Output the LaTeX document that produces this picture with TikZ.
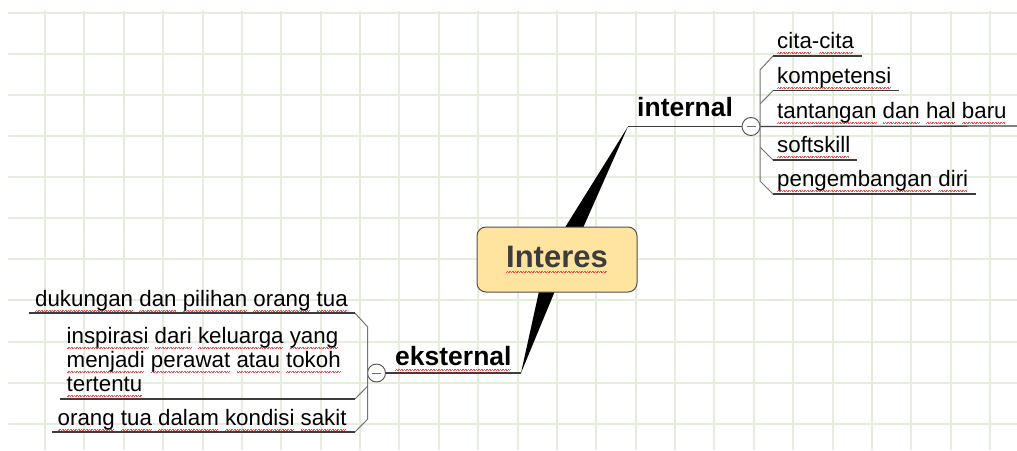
\documentclass[tikz,border=0pt]{standalone}
\usepackage{fontspec}
\setmainfont{Liberation Sans}
\usetikzlibrary{calc}
\definecolor{gridc}{RGB}{229,237,220}
\definecolor{boxfill}{RGB}{255,228,160}
\definecolor{boxline}{RGB}{80,80,80}
\definecolor{ulc}{RGB}{60,60,60}
\definecolor{conc}{RGB}{115,115,115}
\definecolor{rootc}{RGB}{60,60,60}
\definecolor{sqc}{RGB}{245,80,80}
\newsavebox\sqbox
\newcommand\sq[1]{\sbox\sqbox{#1}\rlap{\color{sqc}\leaders\hbox{\rule[-5.1pt]{0.8pt}{0.55pt}\rule[-4.4pt]{0.8pt}{0.55pt}}\hskip\wd\sqbox}\usebox\sqbox}
\tikzset{
  gridl/.style={draw=gridc, line width=2pt},
  rootbox/.style={draw=boxline, fill=boxfill, line width=1pt, rounded corners=9pt,
    minimum width=160pt, minimum height=65pt, inner sep=0pt,
    font=\fontsize{31}{31}\selectfont\bfseries, text=rootc},
  maint/.style={inner sep=0pt, anchor=base west, font=\fontsize{26.5}{28}\selectfont\bfseries},
  leaf/.style={inner sep=0pt, font=\fontsize{22.3}{24}\selectfont, text=black},
  ul/.style={draw=ulc, line width=1.3pt},
  conn/.style={draw=conc, line width=1pt},
  tog/.style={circle, draw=boxline, fill=white, line width=0.9pt, minimum size=18pt, inner sep=0pt,
    path picture={\draw[conc, line width=0.9pt] ([xshift=-4.5pt]path picture bounding box.center) -- ([xshift=4.5pt]path picture bounding box.center);}},
  wedge/.style={fill=black}
}
\begin{document}
\begin{tikzpicture}[x=1pt,y=-1pt]
\useasboundingbox (0,0) rectangle (1017,450);
\fill[white] (0,0) rectangle (1017,450);
% grid
\begin{scope}
\clip (8,11) rectangle (1017,450);
\foreach \k in {0,...,24} { \pgfmathsetmacro\gx{45+39.375*\k} \draw[gridl] (\gx,11) -- (\gx,450); }
\foreach \k in {0,...,10} { \pgfmathsetmacro\gy{13+41.07*\k} \draw[gridl] (8,\gy) -- (1017,\gy); }
\end{scope}

% key coordinates
\coordinate (rc) at (557,259.5);
\coordinate (tipR) at (628,126.5);
\coordinate (tipL) at (521,373);

% wedges from root to branches
\fill[wedge] (tipR) -- ($(rc)+(-12,0)$) -- ($(rc)+(12,0)$) -- cycle;
\fill[wedge] (tipL) -- ($(rc)+(-11,0)$) -- ($(rc)+(11,0)$) -- cycle;

% root
\node[rootbox] (root) at (rc) {\raisebox{-2pt}{\sq{Interes}}};

% main branches
\node[maint] (int) at (637,116.5) {internal};
\node[maint] (ext) at (395,365) {\sq{eksternal}};
\node[tog] (togR) at (751,126.5) {};
\node[tog] (togL) at (376.5,373) {};
\draw[ul] (tipR) -- (togR.west);
\draw[ul] (togL.east) -- (tipL);

% ---------- right children ----------
\node[leaf, anchor=base west] (r1) at (777,48.5) {\sq{cita}-\sq{cita}};
\node[leaf, anchor=base west] (r2) at (777,83.2) {\sq{kompetensi}};
\node[leaf, anchor=base west] (r3) at (777,118) {\sq{tantangan} \sq{dan} \sq{hal} \sq{baru}};
\node[leaf, anchor=base west] (r4) at (777,152.5) {\sq{softskill}};
\node[leaf, anchor=base west] (r5) at (777,186.5) {\sq{pengembangan} \sq{diri}};

\coordinate (jr1) at (760,70);
\coordinate (jr2) at (760,104);
\coordinate (jr4) at (760,147);
\coordinate (jr5) at (760,181);
\coordinate (ur1s) at (773,56);   \coordinate (ur1e) at (862,56);
\coordinate (ur2s) at (773,90.7); \coordinate (ur2e) at (899,90.7);
\coordinate (ur3e) at (1017,126);
\coordinate (ur4s) at (773,160);  \coordinate (ur4e) at (857,160);
\coordinate (ur5s) at (773,194);  \coordinate (ur5e) at (976,194);

\draw[conn] (ur1s) -- (jr1) -- (jr5) -- (ur5s);
\draw[conn] (jr2) -- (ur2s);
\draw[conn] (jr4) -- (ur4s);
\draw[ul] (ur1s) -- (ur1e);
\draw[ul] (ur2s) -- (ur2e);
\draw[ul] (togR.east) -- (ur3e);
\draw[ul] (ur4s) -- (ur4e);
\draw[ul] (ur5s) -- (ur5e);

% ---------- left children ----------
\node[leaf, anchor=base west] (l1) at (35,306.5) {\sq{dukungan} \sq{dan} \sq{pilihan} \sq{orang} \sq{tua}};
\node[leaf, anchor=north west, align=left] (l2) at (66.5,327) {\sq{inspirasi} \sq{dari} \sq{keluarga} \sq{yang}\\ \sq{menjadi} \sq{perawat} \sq{atau} \sq{tokoh}\\ \sq{tertentu}};
\node[leaf, anchor=base west] (l3) at (57.5,425) {\sq{orang} \sq{tua} \sq{dalam} \sq{kondisi} \sq{sakit}};

\coordinate (jl1) at (367.7,327);
\coordinate (jl2) at (367.7,386);
\coordinate (jl3) at (367.7,419);
\coordinate (ul1s) at (28.7,313); \coordinate (ul1e) at (355,313);
\coordinate (ul2s) at (60,399);   \coordinate (ul2e) at (355,399);
\coordinate (ul3s) at (52,432);   \coordinate (ul3e) at (355,432);

\draw[conn] (ul1e) -- (jl1) -- (jl3) -- (ul3e);
\draw[conn] (jl2) -- (ul2e);
\draw[ul] (ul1s) -- (ul1e);
\draw[ul] (ul2s) -- (ul2e);
\draw[ul] (ul3s) -- (ul3e);
\end{tikzpicture}
\end{document}
